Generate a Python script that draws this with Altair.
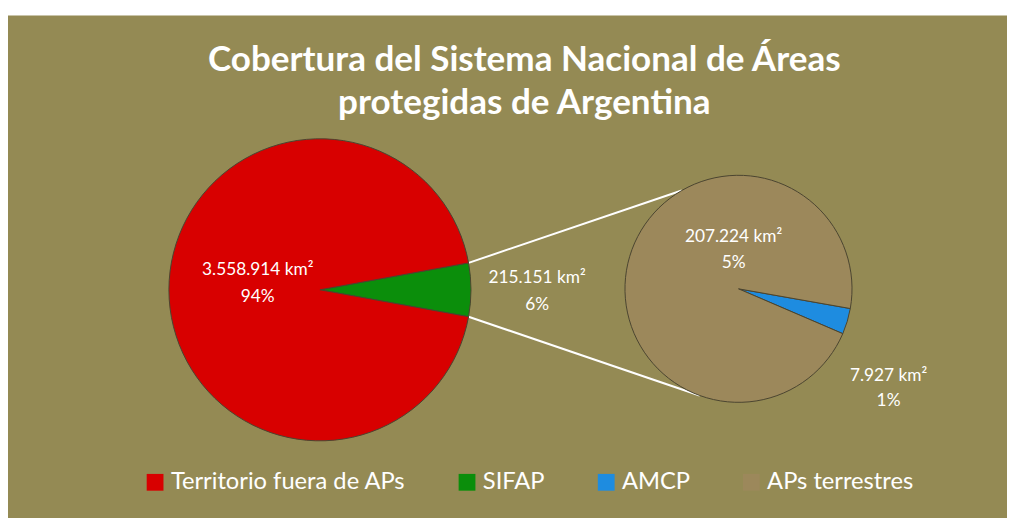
import math
import altair as alt
import pandas as pd

# ---------------- data ----------------
TITLE_LINES = ["Cobertura del Sistema Nacional de Áreas", "protegidas de Argentina"]
CATEGORIES = ["Territorio fuera de APs", "SIFAP", "AMCP", "APs terrestres"]
COLORS = ["#D80000", "#0B8E0B", "#1E8CE0", "#9C885B"]

MAIN_CATS = ["SIFAP", "Territorio fuera de APs"]
MAIN_VALUES = [215151, 3558914]
MAIN_PCT = ["6%", "94%"]

SUB_CATS = ["AMCP", "APs terrestres"]
SUB_VALUES = [7927, 207224]
SUB_PCT = ["1%", "5%"]

# ---------------- layout (pixels, plot-area coordinates) ----------------
BG = "#948A54"
FONT = "Lato"
MAIN_C = (316, 278)
MAIN_R = 153
SUB_C = (740, 277)
SUB_R = 115
SUB_START_DEG = 100.0
SUB_LINK_DEG = (330.0, 200.0)
LABEL_POS = {
    "Territorio fuera de APs": (253, 258, 285),
    "SIFAP": (536, 266, 293),
    "APs terrestres": (735, 225, 251),
    "AMCP": (892, 365, 391),
}


def km2(v):
    return f"{v:,}".replace(",", ".") + " km²"


main_total = sum(MAIN_VALUES)
green_span = MAIN_VALUES[0] / main_total * 360.0
main_start = 90.0 - green_span / 2.0

main_df = pd.DataFrame({"cat": MAIN_CATS, "value": MAIN_VALUES, "ord": list(range(len(MAIN_CATS)))})
sub_df = pd.DataFrame({"cat": SUB_CATS, "value": SUB_VALUES, "ord": list(range(len(SUB_CATS)))})

color_scale = alt.Scale(domain=CATEGORIES, range=COLORS)


def pie(df, start_deg, center, radius, legend):
    a0 = math.radians(start_deg)
    return alt.Chart(df).mark_arc(
        outerRadius=radius, stroke="#4a4430", strokeWidth=1
    ).encode(
        theta=alt.Theta("value:Q", stack=True, scale=alt.Scale(range=[a0, a0 + 2 * math.pi])),
        color=alt.Color("cat:N", scale=color_scale, legend=legend),
        order=alt.Order("ord:Q"),
        x=alt.value(center[0]),
        y=alt.value(center[1]),
    )


legend = alt.Legend(
    title=None,
    orient="none",
    legendX=137,
    legendY=461,
    direction="horizontal",
    columns=4,
    symbolType="square",
    symbolSize=289,
    symbolStrokeWidth=0,
    symbolOpacity=1,
    labelFont=FONT,
    labelFontSize=24,
    labelColor="white",
    labelOffset=4,
    columnPadding=50,
    padding=0,
    labelLimit=400,
)

main_pie = pie(main_df, main_start, MAIN_C, MAIN_R, legend)
sub_pie = pie(sub_df, SUB_START_DEG, SUB_C, SUB_R, None)


# connector lines
def pt(c, r, deg):
    t = math.radians(deg)
    return c[0] + r * math.sin(t), c[1] - r * math.cos(t)


m1 = pt(MAIN_C, MAIN_R, main_start)
m2 = pt(MAIN_C, MAIN_R, main_start + green_span)
s1 = pt(SUB_C, SUB_R, SUB_LINK_DEG[0])
s2 = pt(SUB_C, SUB_R, SUB_LINK_DEG[1])
lines_df = pd.DataFrame({
    "x": [m1[0], m2[0]], "y": [m1[1], m2[1]],
    "x2": [s1[0], s2[0]], "y2": [s1[1], s2[1]],
})
lines = alt.Chart(lines_df).mark_rule(color="white", strokeWidth=2).encode(
    x=alt.X("x:Q", scale=None), y=alt.Y("y:Q", scale=None),
    x2="x2:Q", y2="y2:Q",
)

# data labels
rows = []
for cats, vals, pcts in ((MAIN_CATS, MAIN_VALUES, MAIN_PCT), (SUB_CATS, SUB_VALUES, SUB_PCT)):
    for c, v, p in zip(cats, vals, pcts):
        x, y1, y2 = LABEL_POS[c]
        rows.append({"t": km2(v), "x": x, "y": y1})
        rows.append({"t": p, "x": x, "y": y2})
labels_df = pd.DataFrame(rows)
labels = alt.Chart(labels_df).mark_text(
    font=FONT, fontSize=17.5, color="white", align="center", baseline="middle"
).encode(
    x=alt.X("x:Q", scale=None), y=alt.Y("y:Q", scale=None), text="t:N"
)

# title
title_df = pd.DataFrame({"t": TITLE_LINES, "y": [56, 100]})
title = alt.Chart(title_df).mark_text(
    font=FONT, fontSize=35.5, fontWeight="bold", color="white", align="center", baseline="alphabetic"
).encode(
    x=alt.value(523), y=alt.Y("y:Q", scale=None), text="t:N"
)

chart = alt.layer(lines, main_pie, sub_pie, labels, title).resolve_scale(
    theta="independent", color="shared"
).properties(
    width=1012, height=530, background="white",
    padding={"left": 0, "top": 4, "right": 0, "bottom": 0},
    autosize=alt.AutoSizeParams(type="none"),
).configure_view(
    fill=BG, strokeWidth=0
)

chart.save("out.html", embed_options={"renderer": "svg", "actions": False})
